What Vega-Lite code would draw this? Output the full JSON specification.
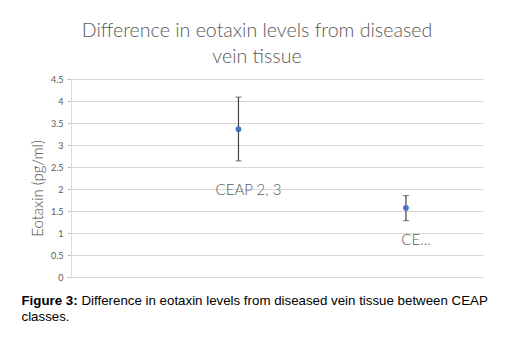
{
  "$schema": "https://vega.github.io/schema/vega-lite/v6.json",
  "width": 412,
  "height": 198,
  "autosize": "none",
  "padding": {"left": 71, "top": 79, "right": 22, "bottom": 61},
  "background": "white",
  "config": {
    "view": {"stroke": null},
    "axisY": {
      "labelFont": "Lato", "labelFontSize": 9, "labelColor": "#595959", "labelPadding": 4,
      "tickColor": "#bfbfbf", "tickSize": 4, "domainColor": "#d9d9d9", "gridColor": "#d9d9d9",
      "titleFont": "Lato", "titleFontSize": 15, "titleFontWeight": 300, "titleColor": "#4a4a4a",
      "titlePadding": 5, "titleY": 109, "labelOverlap": false, "format": "~g"
    },
    "axisX": {
      "orient": "bottom", "domain": false, "ticks": false, "labels": false, "grid": false,
      "titleFont": "Liberation Sans", "titleFontSize": 13.3, "titleColor": "#000000",
      "titleAnchor": "start", "titleAlign": "left", "titleBaseline": "alphabetic"
    }
  },
  "title": {
    "text": ["Difference in eotaxin levels from diseased", "vein tissue"],
    "font": "Lato",
    "fontSize": 19.6,
    "fontWeight": 300,
    "color": "#595959",
    "lineHeight": 26,
    "anchor": "middle",
    "dx": -20,
    "offset": 7
  },
  "data": {
    "values": [
      {"x": 1, "mean": 3.36, "lo": 2.64, "hi": 4.09, "labelY": 1.98, "label": "CEAP 2, 3"},
      {"x": 2, "mean": 1.57, "lo": 1.28, "hi": 1.85, "labelY": 0.83, "label": "CE..."}
    ]
  },
  "layer": [
    {
      "mark": {"type": "errorbar", "ticks": {"size": 6, "color": "#404040", "strokeWidth": 1.2}, "rule": {"color": "#404040", "strokeWidth": 1.2}},
      "encoding": {
        "x": {"field": "x", "type": "quantitative", "scale": {"domain": [0, 2.46], "nice": false},
          "axis": {"orient": "bottom", "title": "Figure 3:", "titleFontWeight": "bold", "titleX": -50, "titleY": 27.5}},
        "y": {"field": "lo", "type": "quantitative", "scale": {"domain": [0, 4.5], "nice": false},
          "axis": {"values": [0, 0.5, 1, 1.5, 2, 2.5, 3, 3.5, 4, 4.5], "title": "Eotaxin (pg/ml)"}},
        "y2": {"field": "hi"}
      }
    },
    {
      "mark": {"type": "point", "filled": true, "size": 32, "color": "#4472C4", "opacity": 1},
      "encoding": {
        "x": {"field": "x", "type": "quantitative", "scale": {"domain": [0, 2.46], "nice": false},
          "axis": {"orient": "bottom", "title": "Difference in eotaxin levels from diseased vein tissue between CEAP", "titleFontWeight": "normal", "titleX": 10, "titleY": 27.5}},
        "y": {"field": "mean", "type": "quantitative", "scale": {"domain": [0, 4.5], "nice": false},
          "axis": {"values": [0, 0.5, 1, 1.5, 2, 2.5, 3, 3.5, 4, 4.5], "title": "Eotaxin (pg/ml)"}}
      }
    },
    {
      "mark": {"type": "text", "font": "Lato", "fontSize": 15, "fontWeight": 300, "color": "#595959", "dx": 10},
      "encoding": {
        "x": {"field": "x", "type": "quantitative", "scale": {"domain": [0, 2.46], "nice": false},
          "axis": {"orient": "bottom", "title": "classes.", "titleFontWeight": "normal", "titleX": -50, "titleY": 43.5}},
        "y": {"field": "labelY", "type": "quantitative", "scale": {"domain": [0, 4.5], "nice": false},
          "axis": {"values": [0, 0.5, 1, 1.5, 2, 2.5, 3, 3.5, 4, 4.5], "title": "Eotaxin (pg/ml)"}},
        "text": {"field": "label"}
      }
    }
  ],
  "resolve": {"axis": {"x": "independent"}}
}
